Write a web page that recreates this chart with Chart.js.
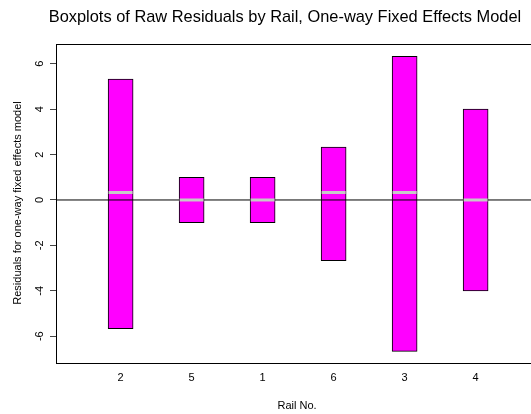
<!DOCTYPE html>
<html>
<head>
<meta charset="utf-8">
<script src="https://cdn.jsdelivr.net/npm/chart.js@4"></script>
<style>
  html, body { margin: 0; padding: 0; background: #fff; overflow: hidden; }
  canvas { display: block; }
</style>
</head>
<body>
<canvas id="chart" width="531" height="414"></canvas>
<script>
// rails in plotted order
const rails = ["2", "5", "1", "6", "3", "4"];
const lows = [-5.67, -1.0, -1.0, -2.67, -6.67, -4.0];
const highs = [5.33, 1.0, 1.0, 2.33, 6.33, 4.0];
const medians = [0.33, 0.0, 0.0, 0.33, 0.33, 0.0];
const yTicks = [-6, -4, -2, 0, 2, 4, 6];

// axis limits
const X_MIN = 0.09;
const X_MAX = 6.78;
const Y_MIN = -7.18;
const Y_MAX = 6.87;

const FONT = "'Liberation Sans', Arial, Helvetica, sans-serif";
Chart.defaults.font.family = FONT;
Chart.defaults.color = "#000";

/* ---------- text + top border ---------- */
const extras = {
  id: "extras",
  afterDraw(chart) {
    const { ctx, chartArea } = chart;
    ctx.save();
    // top border of plot box
    ctx.strokeStyle = "#000";
    ctx.lineWidth = 1;
    ctx.beginPath();
    ctx.moveTo(chartArea.left, chartArea.top + 0.5);
    ctx.lineTo(chartArea.right, chartArea.top + 0.5);
    ctx.stroke();

    ctx.fillStyle = "#000";
    ctx.textAlign = "center";
    ctx.textBaseline = "middle";
    ctx.font = "16.4px " + FONT;
    ctx.fillText("Boxplots of Raw Residuals by Rail, One-way Fixed Effects Model", 285, 17);

    ctx.font = "11px " + FONT;
    ctx.fillText("Rail No.", 297, 406);

    ctx.translate(18, 203);
    ctx.rotate(-Math.PI / 2);
    ctx.fillText("Residuals for one-way fixed effects model", 0, 0);
    ctx.restore();
  }
};

const ctx = document.getElementById("chart").getContext("2d");
new Chart(ctx, {
  type: "bar",
  data: {
    datasets: [
      {
        type: "line",
        label: "medians",
        data: rails.map((r, i) => ({ x: i + 1, y: medians[i] })),
        showLine: false,
        pointStyle: "line",
        pointRadius: 12,
        pointHoverRadius: 12,
        pointBorderWidth: 3,
        pointBorderColor: "#c8c8c8",
        borderColor: "#c8c8c8",
        order: 1
      },
      {
        type: "line",
        label: "zero",
        data: [{ x: X_MIN, y: 0 }, { x: X_MAX, y: 0 }],
        borderColor: "#000",
        borderWidth: 1,
        pointRadius: 0,
        order: 2
      },
      {
        label: "residuals",
        data: rails.map((r, i) => ({ x: i + 1, y: [lows[i], highs[i]] })),
        backgroundColor: "#ff00ff",
        borderColor: "#000",
        borderWidth: 1,
        borderSkipped: false,
        barThickness: 25,
        order: 3
      }
    ]
  },
  options: {
    responsive: false,
    animation: false,
    layout: { autoPadding: false, padding: { top: 44, right: 0, bottom: 0, left: 0 } },
    plugins: { legend: { display: false }, tooltip: { enabled: false }, title: { display: false } },
    scales: {
      x: {
        type: "linear",
        offset: false,
        min: X_MIN,
        max: X_MAX,
        afterFit: (s) => { s.height = 51; s.paddingRight = 0; s.paddingLeft = 0; },
        afterBuildTicks: (s) => { s.ticks = rails.map((r, i) => ({ value: i + 1 })); },
        ticks: {
          font: { size: 11 },
          padding: 8,
          maxRotation: 0,
          autoSkip: false,
          callback: (v) => rails[v - 1]
        },
        grid: { drawOnChartArea: false, drawTicks: false, offset: false },
        border: { display: true, color: "#000", width: 1 }
      },
      y: {
        min: Y_MIN,
        max: Y_MAX,
        afterFit: (s) => { s.width = 56; s.paddingTop = 0; s.paddingBottom = 0; },
        afterBuildTicks: (s) => { s.ticks = yTicks.map(v => ({ value: v })); },
        ticks: {
          font: { size: 11 },
          minRotation: 90,
          maxRotation: 90,
          crossAlign: "center",
          padding: 5
        },
        grid: { drawOnChartArea: false, drawTicks: true, tickLength: 6, color: "#444" },
        border: { display: true, color: "#000", width: 1 }
      }
    }
  },
  plugins: [extras]
});
</script>
</body>
</html>
